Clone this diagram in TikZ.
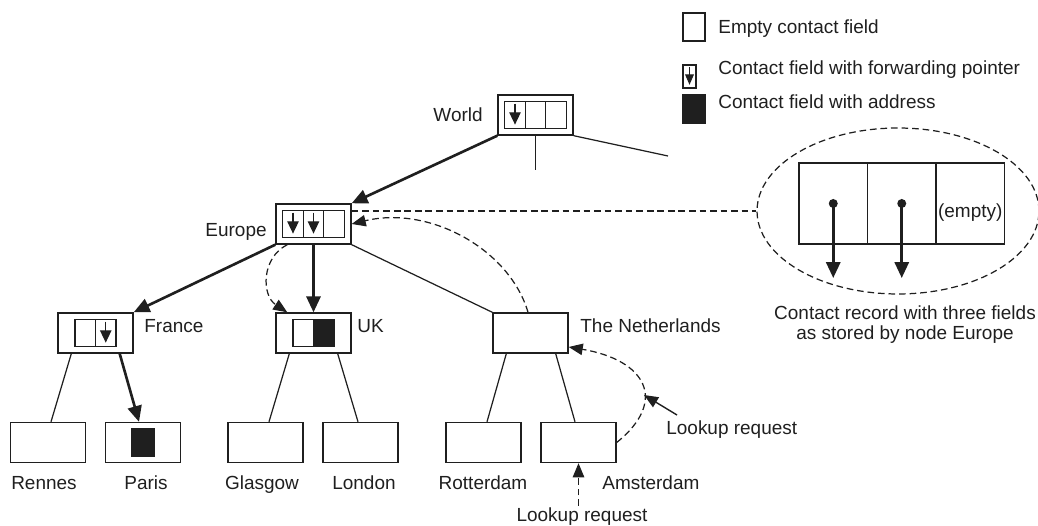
\documentclass[tikz,border=0pt]{standalone}
\usepackage{fontspec}
\setmainfont{Liberation Sans}
\usepackage{tikz}
\usetikzlibrary{arrows.meta}
\usetikzlibrary{calc}
\usetikzlibrary{shapes.geometric}
\colorlet{ink}{black!88}
\tikzset{
  box/.style={draw=ink,line width=0.8pt,minimum width=1.5cm,minimum height=0.8cm,inner sep=0pt},
  field/.style={draw=ink,line width=0.8pt,minimum width=0.41cm,minimum height=0.54cm,inner sep=0pt},
  fwd/.style={field,path picture={\draw[ink,line width=0.7pt,-{Triangle[length=7pt,width=6.5pt]}]
      ([yshift=-1.2pt]path picture bounding box.north)--([yshift=2.2pt]path picture bounding box.south);}},
  legfwd/.style={field,minimum width=0.26cm,minimum height=0.46cm,path picture={\draw[ink,line width=0.7pt,-{Triangle[length=6pt,width=5pt]}]
      ([yshift=-1.2pt]path picture bounding box.north)--([yshift=1.8pt]path picture bounding box.south);}},
  addr/.style={field,fill=ink},
  recfield/.style={draw=ink,line width=0.8pt,minimum width=1.37cm,minimum height=1.62cm,inner sep=0pt},
  lbl/.style={inner sep=0pt,text=ink},
  edge/.style={ink,line width=0.7pt},
  ptr/.style={ink,line width=1.5pt,-{Triangle[length=9pt,width=8pt]}},
  note/.style={ink,line width=0.8pt,-{Triangle[length=8pt,width=6.5pt]}},
  hop/.style={ink,line width=0.7pt,dash pattern=on 3.8pt off 2.2pt},
  hoparrow/.style={hop,-{Triangle[length=8pt,width=6.5pt]}},
}

\begin{document}
\begin{tikzpicture}[x=0.02cm,y=-0.02cm,font=\fontsize{10.8}{12.5}\selectfont]
    \useasboundingbox (0,0) rectangle (1038,526);

    %%% LEGEND %%%
    \node[field,minimum width=0.44cm,minimum height=0.56cm] (legempty) at (694,27) {};
    \node[legfwd] (legfwd) at (689.5,76.5) {};
    \node[addr,minimum width=0.44cm,minimum height=0.56cm] (legaddr) at (694,109) {};
    \node[lbl,anchor=base west] (legemptytxt) at (718,34) {Empty contact field};
    \node[lbl,anchor=base west] (legfwdtxt) at (718,75) {Contact field with forwarding pointer};
    \node[lbl,anchor=base west] (legaddrtxt) at (718,109) {Contact field with address};

    %%% DOMAIN NODES %%%
    \node[box] (world) at (535.5,115) {};
    \node[fwd] (world1) at ([xshift=-0.41cm]world.center) {};
    \node[field] (world2) at (world.center) {};
    \node[field] (world3) at ([xshift=0.41cm]world.center) {};

    \node[box] (europe) at (313.5,224) {};
    \node[fwd] (europe1) at ([xshift=-0.41cm]europe.center) {};
    \node[fwd] (europe2) at (europe.center) {};
    \node[field] (europe3) at ([xshift=0.41cm]europe.center) {};

    \node[box] (france) at (95.5,333) {};
    \node[field] (france1) at ([xshift=-0.205cm]france.center) {};
    \node[fwd] (france2) at ([xshift=0.205cm]france.center) {};

    \node[box] (uk) at (313.5,333) {};
    \node[field] (uk1) at ([xshift=-0.205cm]uk.center) {};
    \node[addr] (uk2) at ([xshift=0.205cm]uk.center) {};

    \node[box] (nl) at (530.5,333) {};

    \node[box] (rennes) at (48,442.5) {};
    \node[box] (paris) at (143,442.5) {};
    \node[addr,minimum width=0.44cm,minimum height=0.56cm] (paris1) at (paris.center) {};
    \node[box] (glasgow) at (265.5,442.5) {};
    \node[box] (london) at (360.5,442.5) {};
    \node[box] (rotterdam) at (483.5,442.5) {};
    \node[box] (ams) at (578.5,442.5) {};

    %%% NAMES %%%
    \node[lbl,anchor=base east] (worldtxt) at (483,122) {World};
    \node[lbl,anchor=base east] (europetxt) at (267,237) {Europe};
    \node[lbl,anchor=base west] (francetxt) at (144,333) {France};
    \node[lbl,anchor=base west] (uktxt) at (357,333) {UK};
    \node[lbl,anchor=base west] (nltxt) at (580,333) {The Netherlands};
    \node[lbl,anchor=base] (rennestxt) at (44,490) {Rennes};
    \node[lbl,anchor=base] (paristxt) at (146,490) {Paris};
    \node[lbl,anchor=base] (glasgowtxt) at (262,490) {Glasgow};
    \node[lbl,anchor=base] (londontxt) at (364,490) {London};
    \node[lbl,anchor=base] (rotterdamtxt) at (483,490) {Rotterdam};
    \node[lbl,anchor=base west] (amstxt) at (602,490) {Amsterdam};

    %%% TREE %%%
    \coordinate (wdown) at (535.5,170);
    \coordinate (wright) at (668,156);
    \draw[edge] (world.south) -- (wdown);
    \draw[edge] (world.south east) -- (wright);
    \draw[ptr] (world.south west) -- (europe.north east);
    \draw[ptr] (europe.south west) -- (france.north east);
    \draw[ptr] (europe.south) -- (uk.north);
    \draw[edge] (europe.south east) -- (nl.north west);
    \draw[edge] ([xshift=0.28cm]france.south west) -- ([xshift=0.06cm]rennes.north);
    \draw[ptr] ([xshift=-0.28cm]france.south east) -- ([xshift=-0.08cm]paris.north);
    \draw[edge] ([xshift=0.28cm]uk.south west) -- ([xshift=0.07cm]glasgow.north);
    \draw[edge] ([xshift=-0.28cm]uk.south east) -- ([xshift=-0.05cm]london.north);
    \draw[edge] ([xshift=0.28cm]nl.south west) -- ([xshift=0.07cm]rotterdam.north);
    \draw[edge] ([xshift=-0.26cm]nl.south east) -- ([xshift=-0.07cm]ams.north);

    %%% LOOKUP %%%
    \draw[hoparrow] ([xshift=0.24cm]europe.south west) .. controls +(-26,13) and +(-26,-17) .. ([xshift=0.24cm]uk.north west);
    \draw[hoparrow] ([xshift=-0.05cm]nl.north) .. controls +(-18,-62) and +(79,-19) .. (europe.east);
    \draw[hoparrow] (ams.east) .. controls +(52,-42) and +(77,13) .. ([yshift=-0.28cm]nl.east);

    \node[lbl,anchor=base west] (lk1) at (666,435) {Lookup request};
    \coordinate (lk1from) at (677,415);
    \coordinate (lk1to) at (644,395);
    \draw[note] (lk1from) -- (lk1to);
    \node[lbl,anchor=base] (lk2) at (582,522) {Lookup request};
    \coordinate (lk2from) at (578.5,506);
    \draw[hoparrow] (lk2from) -- (ams.south);

    %%% CONTACT RECORD %%%
    \node[ellipse,draw=ink,line width=0.7pt,dash pattern=on 3.8pt off 2.2pt,minimum width=5.64cm,minimum height=3.32cm] (rec) at (898,211) {};
    \draw[hop] (rec.west -| europe.east) -- (rec.west);
    \node[recfield] (rf1) at (833.25,203.5) {};
    \node[recfield] (rf2) at (901.75,203.5) {};
    \node[recfield] (rf3) at (970.25,203.5) {};
    \node[lbl,anchor=base] (emptytxt) at (970.25,218) {(empty)};
    \coordinate (rf1end) at (833.25,278);
    \coordinate (rf2end) at (901.75,278);
    \fill[ink] (rf1.center) circle (4.5);
    \fill[ink] (rf2.center) circle (4.5);
    \draw[ptr] (rf1.center) -- (rf1end);
    \draw[ptr] (rf2.center) -- (rf2end);
    \node[lbl,anchor=base] (cap1) at (905,320) {Contact record with three fields};
    \node[lbl,anchor=base] (cap2) at (905,340) {as stored by node Europe};
\end{tikzpicture}
\end{document}
